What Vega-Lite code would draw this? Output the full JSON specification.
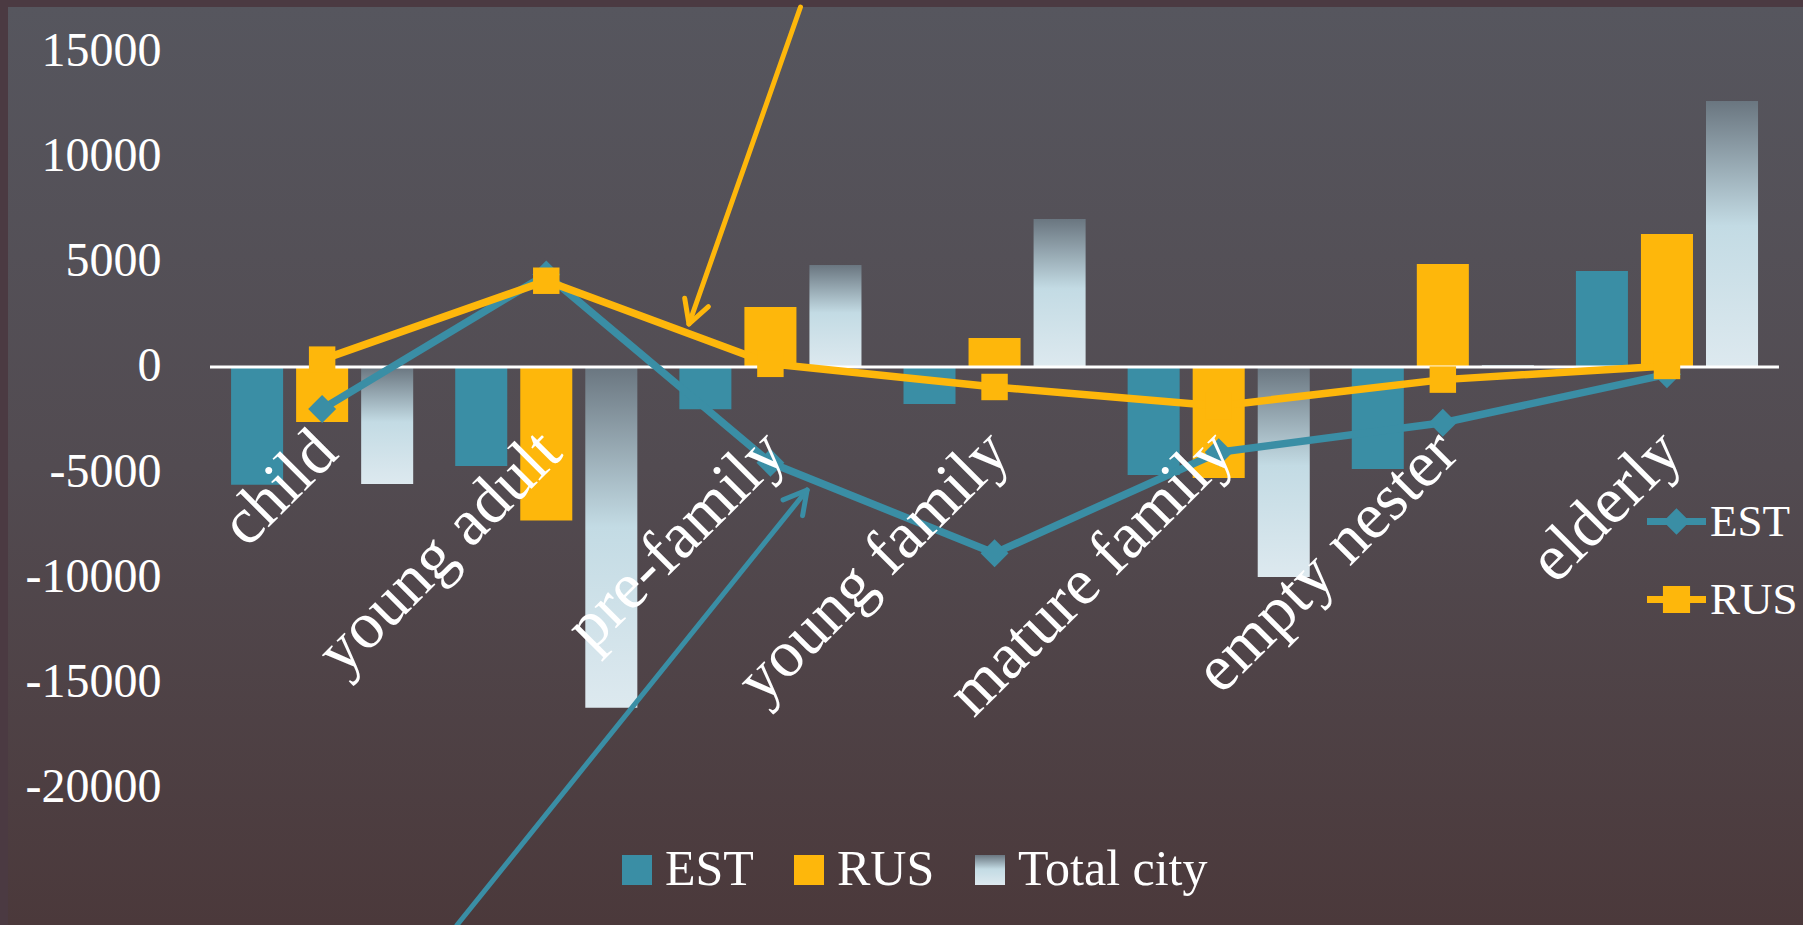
{
  "$schema": "https://vega.github.io/schema/vega-lite/v6.json",
  "width": 1795,
  "height": 918,
  "autosize": "none",
  "padding": {"left": 8, "top": 7, "right": 0, "bottom": 0},
  "background": "#4b3a42",
  "config": {
    "view": {
      "stroke": null,
      "fill": {"gradient": "linear", "x1": 0, "y1": 0, "x2": 0, "y2": 1,
        "stops": [{"offset": 0, "color": "#56565e"}, {"offset": 0.5, "color": "#524b51"}, {"offset": 1, "color": "#4b393b"}]}
    },
    "font": "Liberation Serif",
    "axis": {"labelFont": "Liberation Serif"},
    "legend": {"labelFont": "Liberation Serif", "padding": 0}
  },
  "datasets": {
    "bars": [
      {"group": "child", "series": "EST", "value": -5600},
      {"group": "child", "series": "RUS", "value": -2620},
      {"group": "child", "series": "Total city", "value": -5560},
      {"group": "young adult", "series": "EST", "value": -4700},
      {"group": "young adult", "series": "RUS", "value": -7300},
      {"group": "young adult", "series": "Total city", "value": -16200},
      {"group": "pre-family", "series": "EST", "value": -2010},
      {"group": "pre-family", "series": "RUS", "value": 2850},
      {"group": "pre-family", "series": "Total city", "value": 4850},
      {"group": "young family", "series": "EST", "value": -1760},
      {"group": "young family", "series": "RUS", "value": 1380},
      {"group": "young family", "series": "Total city", "value": 7030},
      {"group": "mature family", "series": "EST", "value": -5130},
      {"group": "mature family", "series": "RUS", "value": -5280},
      {"group": "mature family", "series": "Total city", "value": -9980},
      {"group": "empty nester", "series": "EST", "value": -4850},
      {"group": "empty nester", "series": "RUS", "value": 4900},
      {"group": "empty nester", "series": "Total city", "value": 100},
      {"group": "elderly", "series": "EST", "value": 4560},
      {"group": "elderly", "series": "RUS", "value": 6320},
      {"group": "elderly", "series": "Total city", "value": 12640}
    ],
    "lines": [
      {"group": "child", "series": "EST", "value": -2000},
      {"group": "young adult", "series": "EST", "value": 4400},
      {"group": "pre-family", "series": "EST", "value": -4550},
      {"group": "young family", "series": "EST", "value": -8850},
      {"group": "mature family", "series": "EST", "value": -4050},
      {"group": "empty nester", "series": "EST", "value": -2650},
      {"group": "elderly", "series": "EST", "value": -350},
      {"group": "child", "series": "RUS", "value": 350},
      {"group": "young adult", "series": "RUS", "value": 4100},
      {"group": "pre-family", "series": "RUS", "value": 150},
      {"group": "young family", "series": "RUS", "value": -950},
      {"group": "mature family", "series": "RUS", "value": -1850},
      {"group": "empty nester", "series": "RUS", "value": -600},
      {"group": "elderly", "series": "RUS", "value": 50}
    ]
  },
  "resolve": {"scale": {"x": "independent"}},
  "layer": [
    {
      "data": {"name": "bars"},
      "transform": [{"filter": "datum.series !== 'Total city'"}],
      "mark": {"type": "bar"},
      "encoding": {
        "x": {
          "field": "group", "type": "nominal",
          "sort": ["child", "young adult", "pre-family", "young family", "mature family", "empty nester", "elderly"],
          "scale": {"type": "band", "domain": ["child", "young adult", "pre-family", "young family", "mature family", "empty nester", "elderly"], "paddingInner": 0, "paddingOuter": 0.5042, "align": 0.894},
          "axis": {
            "orient": "bottom", "offset": -558, "title": null, "domain": false, "ticks": false, "zindex": 1,
            "labelAngle": -45, "labelAlign": "right", "labelBaseline": "middle",
            "labelFontSize": 66, "labelColor": "white", "labelPadding": 74, "labelOffset": 4,
            "labelLimit": 0, "labelOverlap": false, "labelFlush": false, "labelBound": false
          }
        },
        "xOffset": {
          "field": "series", "type": "nominal", "sort": ["EST", "RUS", "Total city"],
          "scale": {"domain": ["EST", "RUS", "Total city"], "paddingInner": 0.2, "paddingOuter": 0.323}
        },
        "y": {
          "field": "value", "type": "quantitative",
          "scale": {"domain": [-26521, 17110], "nice": false, "zero": false},
          "axis": {
            "orient": "left", "offset": -153, "title": null, "domain": false, "ticks": false, "tickSize": 0,
            "grid": false, "values": [15000, 10000, 5000, 0, -5000, -10000, -15000, -20000],
            "labelExpr": "datum.value < 0 ? '-' + abs(datum.value) : '' + datum.value",
            "labelFontSize": 48, "labelColor": "white", "labelPadding": 0, "labelLimit": 0, "labelOverlap": false
          }
        },
        "fill": {
          "field": "series", "type": "nominal",
          "scale": {"domain": ["EST", "RUS", "Total city"], "range": ["#3a8ea5", "#feb70b",
            {"expr": "{gradient: 'linear', x1: 0, y1: 0, x2: 0, y2: 1, stops: [{offset: 0, color: '#6a7680'}, {offset: 0.47, color: '#c3dbe4'}, {offset: 1, color: '#dde9ef'}]}"}]},
          "legend": {
            "orient": "none", "legendX": 604, "legendY": 838, "direction": "horizontal", "title": null,
            "symbolType": "square", "symbolSize": 900, "symbolStrokeWidth": 0, "symbolOpacity": 1,
            "labelFontSize": 50, "labelColor": "white", "labelOffset": 3, "columnPadding": 30, "labelLimit": 0
          }
        }
      }
    },
    {
      "data": {"name": "bars"},
      "transform": [{"filter": "datum.series === 'Total city'"}],
      "mark": {"type": "bar", "fill": {"gradient": "linear", "x1": 0, "y1": 0, "x2": 0, "y2": 1,
        "stops": [{"offset": 0, "color": "#6a7680"}, {"offset": 0.47, "color": "#c3dbe4"}, {"offset": 1, "color": "#dde9ef"}]}},
      "encoding": {
        "x": {
          "field": "group", "type": "nominal",
          "sort": ["child", "young adult", "pre-family", "young family", "mature family", "empty nester", "elderly"],
          "scale": {"type": "band", "domain": ["child", "young adult", "pre-family", "young family", "mature family", "empty nester", "elderly"], "paddingInner": 0, "paddingOuter": 0.5042, "align": 0.894},
          "axis": null
        },
        "xOffset": {
          "field": "series", "type": "nominal", "sort": ["EST", "RUS", "Total city"],
          "scale": {"domain": ["EST", "RUS", "Total city"], "paddingInner": 0.2, "paddingOuter": 0.323}
        },
        "y": {"field": "value", "type": "quantitative"}
      }
    },
    {
      "data": {"values": [{"from": -0.5, "to": 6.5, "value": 0}]},
      "mark": {"type": "rule", "color": "white", "strokeWidth": 3},
      "encoding": {
        "x": {"field": "from", "type": "quantitative", "scale": {"domain": [-1.4012, 6.6072], "nice": false, "zero": false}, "axis": null},
        "x2": {"field": "to"},
        "y": {"field": "value", "type": "quantitative"}
      }
    },
    {
      "data": {"name": "lines"},
      "mark": {"type": "line", "strokeWidth": 7.5, "strokeJoin": "round", "strokeCap": "round"},
      "encoding": {
        "x": {
          "field": "group", "type": "nominal",
          "sort": ["child", "young adult", "pre-family", "young family", "mature family", "empty nester", "elderly"],
          "scale": {"type": "band", "domain": ["child", "young adult", "pre-family", "young family", "mature family", "empty nester", "elderly"], "paddingInner": 0, "paddingOuter": 0.5042, "align": 0.894},
          "axis": null
        },
        "y": {"field": "value", "type": "quantitative"},
        "stroke": {
          "field": "series", "type": "nominal",
          "scale": {"domain": ["EST", "RUS"], "range": ["#3a8ea5", "#feb70b"]},
          "legend": {
            "orient": "none", "legendX": 1639, "legendY": 485, "direction": "vertical", "title": null,
            "symbolSize": 3481, "labelFontSize": 45, "labelColor": "white", "labelOffset": 4, "rowPadding": 25, "labelLimit": 0,
            "encode": {
              "symbols": {
                "update": {
                  "fill": {"signal": "datum.value === 'EST' ? '#3a8ea5' : '#feb70b'"},
                  "stroke": {"value": "transparent"},
                  "strokeWidth": {"value": 0},
                  "opacity": {"value": 1}
                }
              }
            }
          }
        }
      }
    },
    {
      "data": {"name": "lines"},
      "mark": {"type": "point", "filled": true, "size": 0, "strokeWidth": 0},
      "encoding": {
        "x": {
          "field": "group", "type": "nominal",
          "sort": ["child", "young adult", "pre-family", "young family", "mature family", "empty nester", "elderly"],
          "scale": {"type": "band", "domain": ["child", "young adult", "pre-family", "young family", "mature family", "empty nester", "elderly"], "paddingInner": 0, "paddingOuter": 0.5042, "align": 0.894},
          "axis": null
        },
        "y": {"field": "value", "type": "quantitative"},
        "shape": {
          "field": "series", "type": "nominal",
          "scale": {"domain": ["EST", "RUS"], "range": [
            "M-1,-0.12L1,-0.12L1,0.12L-1,0.12ZM0,-0.45L0.45,0L0,0.45L-0.45,0Z",
            "M-1,-0.12L1,-0.12L1,0.12L-1,0.12ZM-0.46,-0.46L0.46,-0.46L0.46,0.46L-0.46,0.46Z"]},
          "legend": null
        }
      }
    },
    {
      "data": {"name": "lines"},
      "transform": [{"filter": "datum.series === 'EST'"}],
      "mark": {"type": "point", "shape": "diamond", "filled": true, "fill": "#3a8ea5", "opacity": 1, "size": 780, "strokeWidth": 0},
      "encoding": {
        "x": {
          "field": "group", "type": "nominal",
          "sort": ["child", "young adult", "pre-family", "young family", "mature family", "empty nester", "elderly"],
          "scale": {"type": "band", "domain": ["child", "young adult", "pre-family", "young family", "mature family", "empty nester", "elderly"], "paddingInner": 0, "paddingOuter": 0.5042, "align": 0.894},
          "axis": null
        },
        "y": {"field": "value", "type": "quantitative"}
      }
    },
    {
      "data": {"name": "lines"},
      "transform": [{"filter": "datum.series === 'RUS'"}],
      "mark": {"type": "point", "shape": "square", "filled": true, "fill": "#feb70b", "opacity": 1, "size": 700, "strokeWidth": 0},
      "encoding": {
        "x": {
          "field": "group", "type": "nominal",
          "sort": ["child", "young adult", "pre-family", "young family", "mature family", "empty nester", "elderly"],
          "scale": {"type": "band", "domain": ["child", "young adult", "pre-family", "young family", "mature family", "empty nester", "elderly"], "paddingInner": 0, "paddingOuter": 0.5042, "align": 0.894},
          "axis": null
        },
        "y": {"field": "value", "type": "quantitative"}
      }
    },
    {
      "data": {"values": [{"x": 2.1345, "value": 17110, "x2": 1.637, "value2": 2044}]},
      "mark": {"type": "rule", "color": "#feb70b", "strokeWidth": 5, "strokeCap": "round"},
      "encoding": {
        "x": {"field": "x", "type": "quantitative", "scale": {"domain": [-1.4012, 6.6072], "nice": false, "zero": false}, "axis": null},
        "x2": {"field": "x2"},
        "y": {"field": "value", "type": "quantitative"},
        "y2": {"field": "value2"}
      }
    },
    {
      "data": {"values": [{"x": 1.637, "value": 2044}]},
      "mark": {"type": "point", "shape": "M0,0L-1,-0.55M0,0L-1,0.55", "size": 2080, "angle": 109.4, "filled": false, "stroke": "#feb70b", "strokeWidth": 5, "strokeCap": "round", "opacity": 1},
      "encoding": {
        "x": {"field": "x", "type": "quantitative", "scale": {"domain": [-1.4012, 6.6072], "nice": false, "zero": false}, "axis": null},
        "y": {"field": "value", "type": "quantitative"}
      }
    },
    {
      "data": {"values": [{"x": 0.6021, "value": -26521, "x2": 2.164, "value2": -5846}]},
      "mark": {"type": "rule", "color": "#3a8ea5", "strokeWidth": 5, "strokeCap": "round"},
      "encoding": {
        "x": {"field": "x", "type": "quantitative", "scale": {"domain": [-1.4012, 6.6072], "nice": false, "zero": false}, "axis": null},
        "x2": {"field": "x2"},
        "y": {"field": "value", "type": "quantitative"},
        "y2": {"field": "value2"}
      }
    },
    {
      "data": {"values": [{"x": 2.164, "value": -5846}]},
      "mark": {"type": "point", "shape": "M0,0L-1,-0.55M0,0L-1,0.55", "size": 2080, "angle": 308.8, "filled": false, "stroke": "#3a8ea5", "strokeWidth": 5, "strokeCap": "round", "opacity": 1},
      "encoding": {
        "x": {"field": "x", "type": "quantitative", "scale": {"domain": [-1.4012, 6.6072], "nice": false, "zero": false}, "axis": null},
        "y": {"field": "value", "type": "quantitative"}
      }
    }
  ]
}
